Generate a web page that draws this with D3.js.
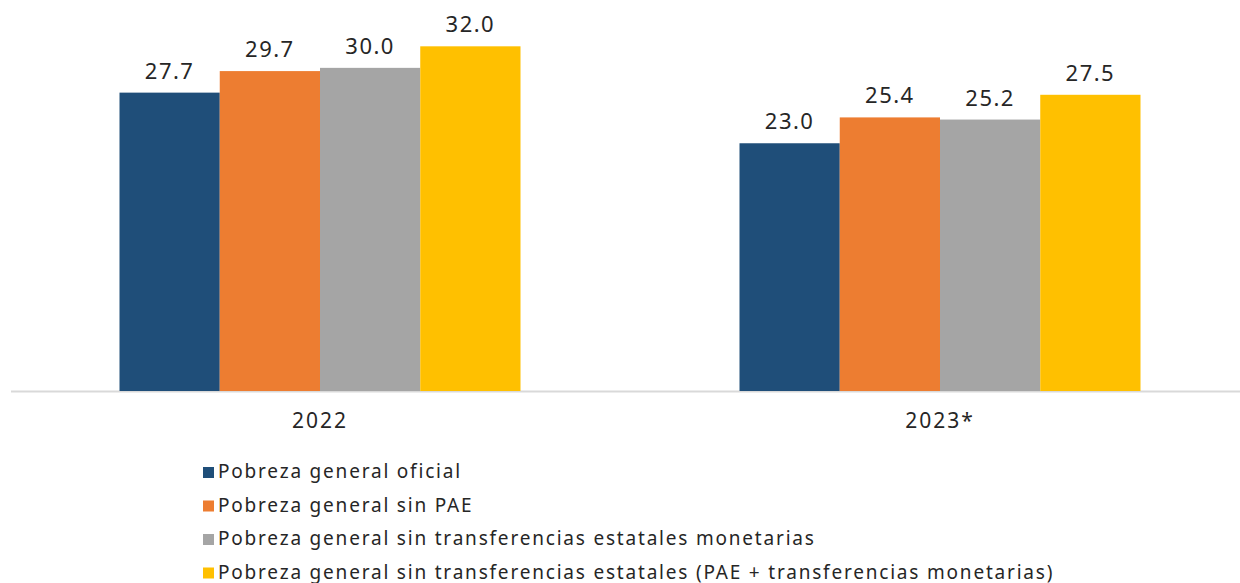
<!DOCTYPE html>
<html>
<head>
<meta charset="utf-8">
<script src="https://cdn.jsdelivr.net/npm/d3@7"></script>
<style>
  body { margin: 0; background: #fff; }
  text { font-family: "Noto Sans", "DejaVu Sans", sans-serif; fill: #262626; }
</style>
</head>
<body>
<script>
// chart size
const width = 1240;
const height = 583;

// data
const years = ["2022", "2023*"];
const seriesNames = [
  "Pobreza general oficial",
  "Pobreza general sin PAE",
  "Pobreza general sin transferencias estatales monetarias",
  "Pobreza general sin transferencias estatales (PAE + transferencias monetarias)"
];
const seriesColors = ["#1f4e79", "#ed7d31", "#a5a5a5", "#ffc000"];
const values2022 = [27.7, 29.7, 30.0, 32.0];
const values2023 = [23.0, 25.4, 25.2, 27.5];

const rows = [values2022, values2023].map((vals, i) => ({
  year: years[i],
  items: vals.map((v, j) => ({ key: seriesNames[j], value: v }))
}));

const svg = d3.select("body").append("svg")
  .attr("width", width)
  .attr("height", height);

// scales
const baseY = 391;
const y = d3.scaleLinear().domain([0, 35]).range([baseY, 14]);

const x0 = d3.scaleBand().domain(years).range([10, 1250]).padding(0);
const x1 = d3.scaleBand().domain(seriesNames).range([109.5, 510.5]).padding(0);
const color = d3.scaleOrdinal().domain(seriesNames).range(seriesColors);

// axis line
svg.append("line")
  .attr("x1", 11).attr("x2", width)
  .attr("y1", baseY + 0.5).attr("y2", baseY + 0.5)
  .attr("stroke", "#d9d9d9")
  .attr("stroke-width", 2);

// bars
const group = svg.append("g")
  .selectAll("g")
  .data(rows)
  .enter()
  .append("g")
  .attr("transform", (d) => `translate(${x0(d.year)},0)`);

group.selectAll("rect")
  .data((d) => d.items)
  .enter()
  .append("rect")
  .attr("x", (d) => x1(d.key))
  .attr("y", (d) => y(d.value))
  .attr("width", x1.bandwidth())
  .attr("height", (d) => baseY - y(d.value))
  .attr("fill", (d) => color(d.key));

// value labels
group.selectAll("text.val")
  .data((d) => d.items)
  .enter()
  .append("text")
  .attr("class", "val")
  .attr("x", (d) => x1(d.key) + x1.bandwidth() / 2)
  .attr("y", (d) => y(d.value) - 14)
  .attr("text-anchor", "middle")
  .style("font-size", "22px")
  .style("letter-spacing", "1.5px")
  .text((d) => d.value.toFixed(1));

// category labels
svg.append("g")
  .selectAll("text")
  .data(years)
  .enter()
  .append("text")
  .attr("x", (d) => x0(d) + x0.bandwidth() / 2)
  .attr("y", 428)
  .attr("text-anchor", "middle")
  .style("font-size", "21px")
  .style("letter-spacing", "2px")
  .text((d) => d);

// legend
const legend = svg.append("g")
  .selectAll("g")
  .data(seriesNames)
  .enter()
  .append("g")
  .attr("transform", (d, i) => `translate(203,${478 + i * 33.5})`);

legend.append("rect")
  .attr("x", 0)
  .attr("y", -11)
  .attr("width", 11)
  .attr("height", 11)
  .attr("fill", (d) => color(d));

legend.append("text")
  .attr("x", 15)
  .attr("y", 0)
  .style("font-size", "19px")
  .style("letter-spacing", "1.8px")
  .text((d) => d);
</script>
</body>
</html>
